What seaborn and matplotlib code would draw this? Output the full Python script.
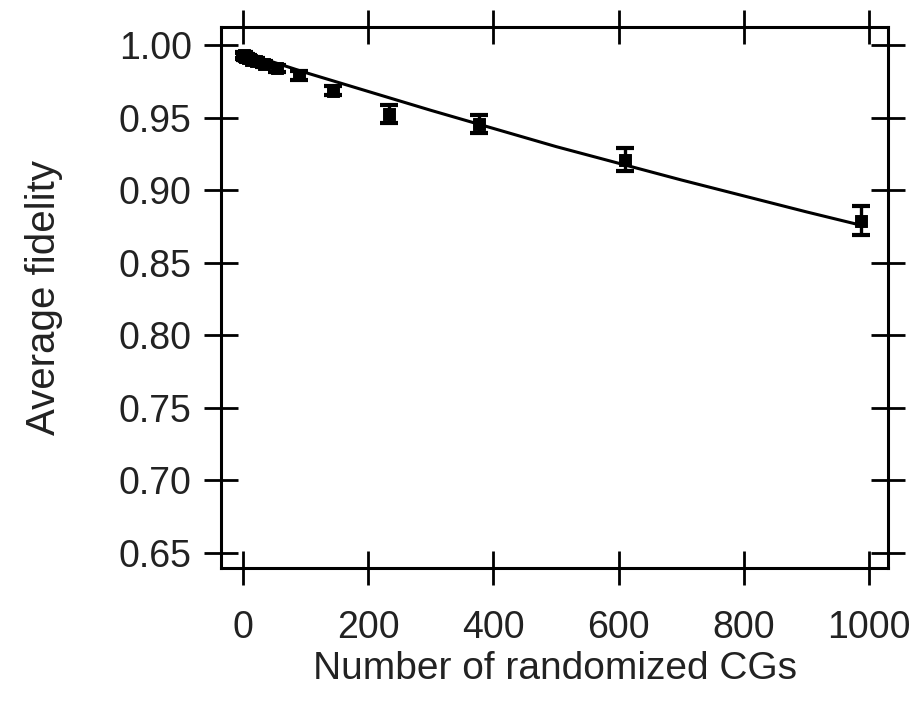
import matplotlib
matplotlib.use("Agg")
import matplotlib.pyplot as plt
import seaborn as sns
import pandas as pd

# Data
n_cg = [1, 2, 3, 5, 8, 13, 21, 34, 55, 89, 144, 233, 377, 610, 987]
fidelity = [0.993, 0.9925, 0.992, 0.9915, 0.991, 0.990, 0.989, 0.987, 0.984,
            0.979, 0.9685, 0.9525, 0.9455, 0.921, 0.879]
fid_err = [0.002, 0.002, 0.002, 0.002, 0.002, 0.002, 0.002, 0.002, 0.0025,
           0.003, 0.003, 0.006, 0.006, 0.008, 0.010]

fit_x = [0, 100, 200, 300, 400, 500, 600, 700, 800, 900, 990]
fit_y = [0.995, 0.981, 0.968, 0.955, 0.9425, 0.930, 0.9185, 0.907, 0.896,
         0.885, 0.8755]

x_ticks = [0, 200, 400, 600, 800, 1000]
y_ticks = [0.65, 0.70, 0.75, 0.80, 0.85, 0.90, 0.95, 1.00]

sns.set_theme(style="ticks")
plt.rcParams['font.family'] = ['Liberation Sans', 'DejaVu Sans']

df = pd.DataFrame({"n": n_cg, "F": fidelity, "err": fid_err})
fit_df = pd.DataFrame({"n": fit_x, "F": fit_y})

fig = plt.figure(figsize=(9.14, 7.14), dpi=100)
ax = fig.add_axes([0.2418, 0.2045, 0.7298, 0.7577])

sns.lineplot(data=fit_df, x="n", y="F", ax=ax, color="black", linewidth=2.2,
             zorder=2)
ax.errorbar(df["n"], df["F"], yerr=df["err"], fmt="none", ecolor="black",
            elinewidth=2.4, capsize=6.5, capthick=3.0, zorder=3)
sns.scatterplot(data=df, x="n", y="F", ax=ax, color="black", s=70,
                marker="s", edgecolor="black", zorder=4)

ax.set_xlim(-35, 1030)
ax.set_ylim(0.6397, 1.0124)
ax.set_xticks(x_ticks)
ax.set_yticks(y_ticks)
ax.set_yticklabels([f"{v:.2f}" for v in y_ticks])
ax.set_xticklabels([str(v) for v in x_ticks])

for s in ax.spines.values():
    s.set_visible(True)
    s.set_linewidth(2.2)
    s.set_color("black")

ax.tick_params(axis="both", which="both", direction="inout", length=24,
               width=2.0, colors="black", labelsize=27,
               top=True, right=True, labeltop=False, labelright=False)
ax.tick_params(axis="y", pad=9)
ax.tick_params(axis="x", pad=18)

ax.set_xlabel("Number of randomized CGs", fontsize=28, labelpad=4,
              color="#222222")
ax.set_ylabel("Average fidelity", fontsize=29, labelpad=40, color="#222222")
for lab in ax.get_xticklabels() + ax.get_yticklabels():
    lab.set_color("#222222")

fig.savefig("out.png", dpi=100, facecolor="white")
